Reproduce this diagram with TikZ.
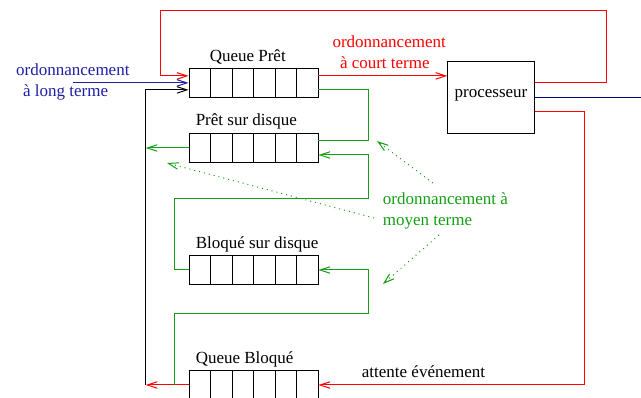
\documentclass[tikz,border=0pt]{standalone}
\usepackage{fontspec}
\setmainfont{Liberation Serif}
\usetikzlibrary{arrows.meta,calc}

\definecolor{xred}{RGB}{255,0,0}
\definecolor{xgreen}{RGB}{20,158,20}
\definecolor{xblue}{RGB}{30,30,165}
\definecolor{xnavy}{RGB}{0,0,130}

\tikzset{
  lbl/.style={font=\fontsize{17}{21}\selectfont, inner sep=0pt, anchor=base west, align=left},
  cell/.style={line width=0.9pt},
  queue/.style={draw, line width=0.9pt, minimum width=129pt, minimum height=28.5pt, inner sep=0pt,
    path picture={\foreach \i in {1,...,5}{
      \draw[cell] ($(path picture bounding box.north west)!\i/6!(path picture bounding box.north east)$)
        -- ($(path picture bounding box.south west)!\i/6!(path picture bounding box.south east)$);}}},
  cpubox/.style={draw, line width=0.9pt, minimum width=86.6pt, minimum height=71.6pt, inner sep=0pt},
  wire/.style={line width=1pt},
  tip/.style={-{Straight Barb[length=10pt,width=6.5pt]}},
  hint/.style={xgreen, line width=1pt, dash pattern=on 1pt off 4pt,
    -{Straight Barb[length=10pt,width=6.5pt]}},
}

\begin{document}
\begin{tikzpicture}[x=1pt,y=-1pt]
\useasboundingbox (0,0) rectangle (641,398);

% queues and processor
\node[queue] (qp) at (253.5,82.9) {};
\node[queue] (ps) at (253.5,148) {};
\node[queue] (bd) at (253.5,270) {};
\node[queue] (qb) at (253.5,385) {};
\node[cpubox] (cpu) at (491,97.5) {};
\node[lbl, anchor=base] (cpulbl) at ($(cpu.center)+(0,-0.2)$) {processeur};

% queue titles
\node[lbl] (tqp) at ($(qp.north west)+(21,-7)$) {Queue Prêt};
\node[lbl] (tps) at ($(ps.north west)+(7,-7.5)$) {Prêt sur disque};
\node[lbl] (tbd) at ($(bd.north west)+(7,-6.8)$) {Bloqué sur disque};
\node[lbl] (tqb) at ($(qb.north west)+(7,-6.5)$) {Queue Bloqué};

% scheduler labels (base anchor sits on the last line)
\node[lbl, text=xblue] (llong) at (16,96.8) {ordonnancement\\\hspace*{7pt}à long terme};
\node[lbl, text=xred] (lcourt) at (332.3,68.3) {ordonnancement\\\hspace*{7.5pt}à court terme};
\node[lbl, text=xgreen] (lmoyen) at (382.7,226) {ordonnancement à\\moyen terme};
\node[lbl] (lwait) at (361.7,377.3) {attente événement};

% helper points
\coordinate (rtop) at (606,11);
\coordinate (rleft) at (160,11);
\coordinate (rbot) at (584,385);
\coordinate (lt) at (73,82.9);
\coordinate (out) at (641,97.5);
\coordinate (swapL) at (145.7,385);
\coordinate (gj) at (174,385);
\coordinate (a1) at (174,313.3);
\coordinate (a2) at (368.3,313.3);
\coordinate (b1) at (174,198.3);
\coordinate (b2) at (368.3,198.3);

% short-term scheduling and processor loops
\draw[wire,xred,tip] ($(qp.east)+(0,-7)$) coordinate (c0) -- (c0 -| cpu.west);
\draw[wire,xred,tip] ($(cpu.east)+(0,-14.8)$) -| (rtop) -- (rleft) |- ($(qp.west)+(0,-7)$);
\draw[wire,xred,tip] ($(cpu.east)+(0,14.2)$) -| (rbot) -- (qb.east);
\draw[wire,xred,tip] (qb.west) -- (swapL);
\draw[wire,xnavy] (cpu.east) -- (out);

% long-term scheduling
\draw[wire,xblue,tip] (lt) -- (qp.west);
\draw[wire,tip] (swapL) |- ($(qp.west)+(0,7)$);

% medium-term scheduling
\draw[wire,xgreen,tip] (gj) -- (a1) -- (a2) |- (bd.east);
\draw[wire,xgreen,tip] (bd.west) -| (b1) -- (b2) |- ($(ps.east)+(0,7)$);
\draw[wire,xgreen] ($(qp.east)+(0,7)$) coordinate (c1) -- (c1 -| b2) |- ($(ps.east)+(0,-7)$);
\draw[wire,xgreen,tip] (ps.west) -- (ps.west -| swapL);

% dotted pointers from the medium-term label
\coordinate (h1s) at (433,183);
\coordinate (h1e) at (377,141);
\coordinate (h2s) at (374,218);
\coordinate (h2e) at (167,163);
\coordinate (h3s) at (439,235);
\coordinate (h3e) at (383,284);
\draw[hint] (h1s) -- (h1e);
\draw[hint] (h2s) -- (h2e);
\draw[hint] (h3s) -- (h3e);
\end{tikzpicture}
\end{document}
